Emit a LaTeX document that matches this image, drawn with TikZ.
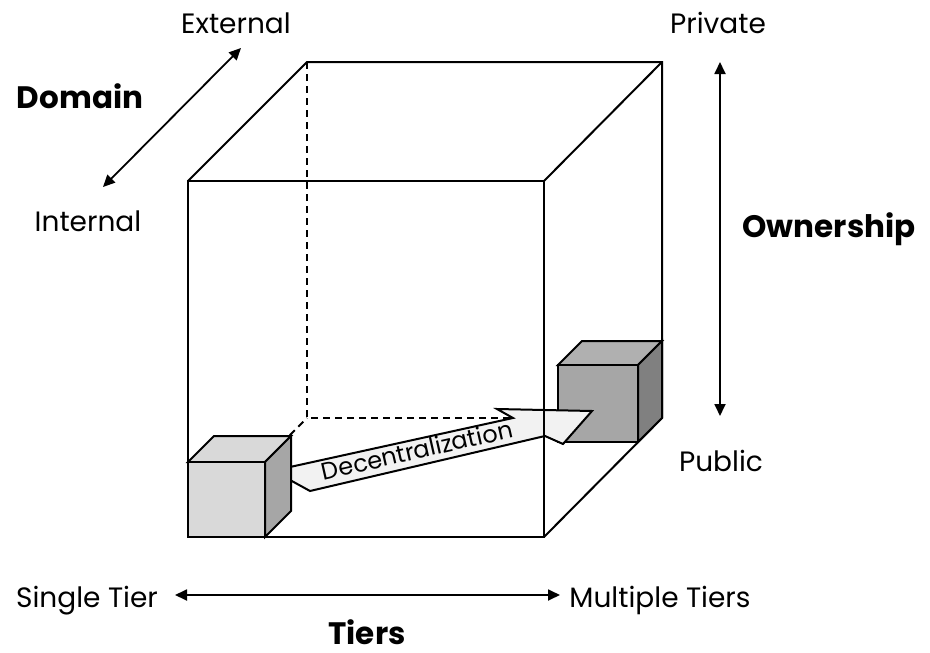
\documentclass[tikz,border=0pt]{standalone}
\usepackage{fontspec}
\setmainfont{Poppins}
\usetikzlibrary{arrows.meta}
\definecolor{lightface}{HTML}{D9D9D9}
\definecolor{lightside}{HTML}{A6A6A6}
\definecolor{darkface}{HTML}{A6A6A6}
\definecolor{darktop}{HTML}{B0B0B0}
\definecolor{darkside}{HTML}{808080}
\definecolor{arrowfill}{HTML}{F2F2F2}
\tikzset{
  edge/.style={line width=2pt, line join=miter},
  hidden/.style={line width=2pt, dash pattern=on 7pt off 5pt},
  axis/.style={line width=1.8pt, {Triangle[length=12pt,width=11pt]}-{Triangle[length=12pt,width=11pt]}},
  lab/.style={font=\fontsize{28}{32}\selectfont, inner sep=0pt, anchor=base},
  title/.style={font=\fontsize{31}{36}\selectfont\bfseries, inner sep=0pt, anchor=base},
}
\begin{document}
\begin{tikzpicture}[x=1pt,y=-1pt]
\useasboundingbox (0,0) rectangle (930,653);
% hidden edges of big cube
\draw[hidden] (307,62) -- (307,418) -- (662,418);
\draw[hidden] (188,537) -- (307,418);
% visible back edges
\draw[edge] (188,181) -- (307,62) -- (662,62) -- (662,418) -- (544,537);
\draw[edge] (544,181) -- (662,62);
% dark cube (multiple tiers)
\draw[edge, fill=darktop] (558,365) -- (582,341) -- (662,341) -- (638,365) -- cycle;
\draw[edge, fill=darkside] (638,365) -- (662,341) -- (662,418) -- (638,442) -- cycle;
\draw[edge, fill=darkface] (558,365) rectangle (638,442);
% decentralization arrow
\draw[edge, fill=arrowfill] (290,467) -- (513,418) -- (497,409) -- (592,411) -- (563,444) -- (545,436) -- (310,491) -- (290,480) -- cycle;
\node[rotate=12.8, font=\fontsize{24}{28}\selectfont, inner sep=0pt] (dec) at (417,450) {Decentralization};
% front face of big cube
\draw[edge] (188,181) rectangle (544,537);
% light cube (single tier)
\draw[edge, fill=lightface] (188,462) -- (214,436) -- (291,436) -- (265,462) -- cycle;
\draw[edge, fill=lightside] (265,462) -- (291,436) -- (291,511) -- (265,537) -- cycle;
\draw[edge, fill=lightface] (188,462) rectangle (265,537);
% axis arrows
\coordinate (domlo) at (103,187);
\coordinate (domhi) at (241,48);
\draw[axis] (domlo) -- (domhi);
\coordinate (ownhi) at (720,62);
\coordinate (ownlo) at (720,416);
\draw[axis] (ownhi) -- (ownlo);
\coordinate (tierlo) at (175,595);
\coordinate (tierhi) at (560,595);
\draw[axis] (tierlo) -- (tierhi);
% labels
\node[lab] (external) at (236,33) {External};
\node[lab] (internal) at (88,231) {Internal};
\node[title] (domain) at (80,108) {Domain};
\node[lab] (private) at (718,33) {Private};
\node[lab] (public) at (721,471) {Public};
\node[title] (ownership) at (829,237) {Ownership};
\node[lab] (single) at (87,607) {Single Tier};
\node[lab] (multiple) at (660,607) {Multiple Tiers};
\node[title] (tiers) at (367,644) {Tiers};
\end{tikzpicture}
\end{document}
